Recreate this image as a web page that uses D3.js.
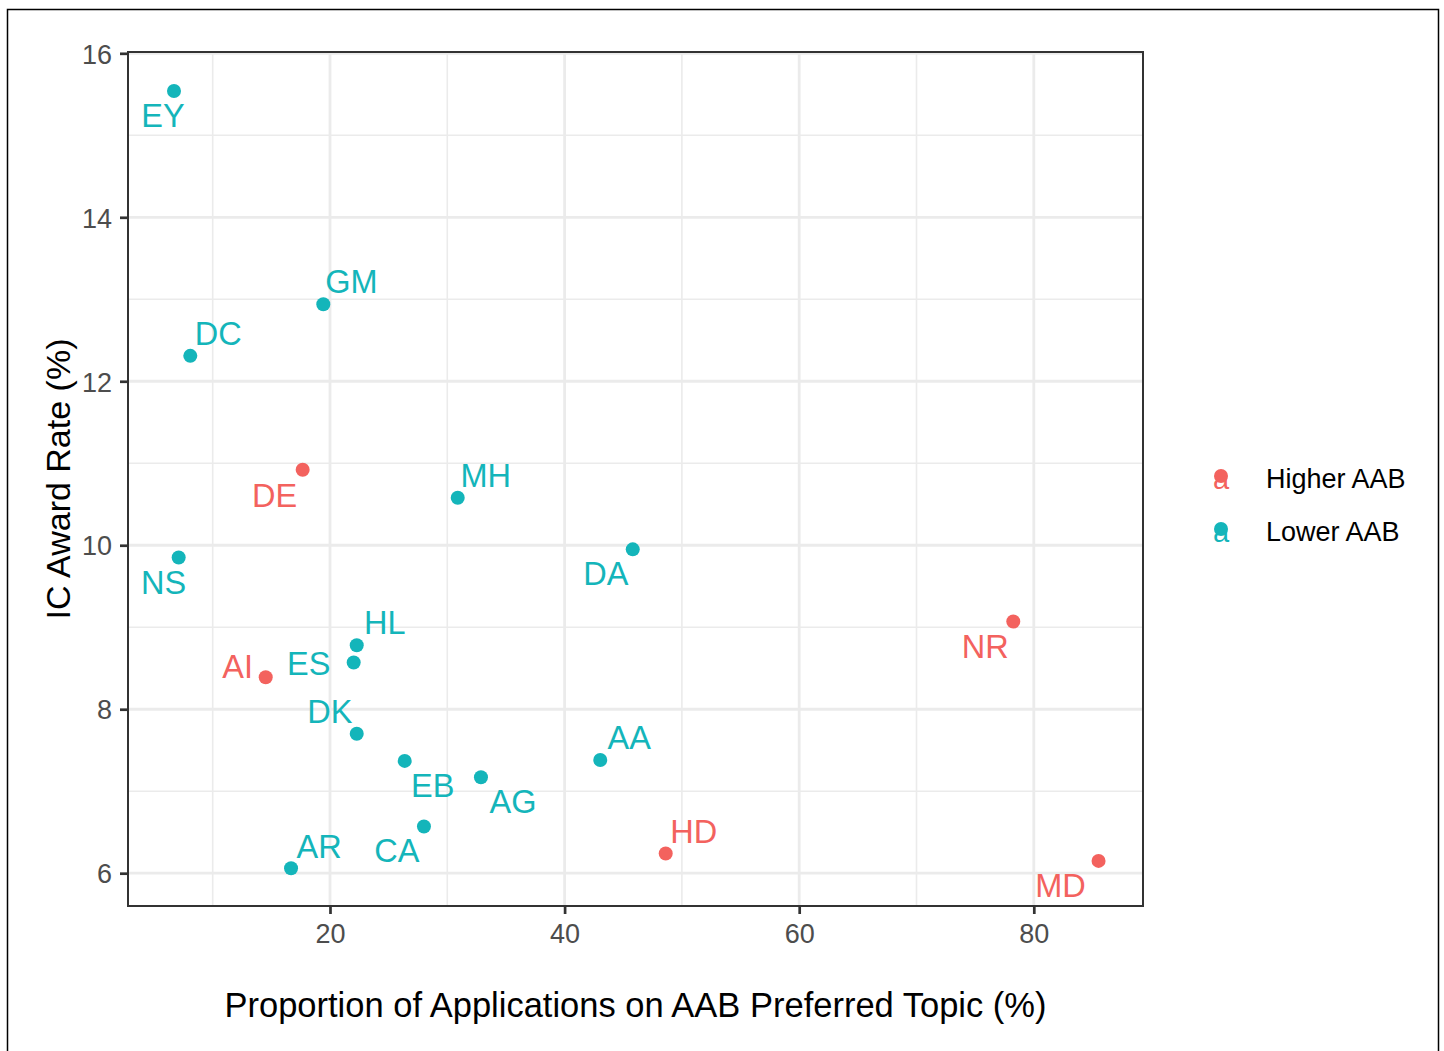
<!DOCTYPE html>
<html>
<head>
<meta charset="utf-8">
<script src="https://cdn.jsdelivr.net/npm/d3@7"></script>
<style>
  html, body { margin: 0; padding: 0; background: #fff; }
  svg { display: block; font-family: "Liberation Sans", Arial, Helvetica, sans-serif; }
</style>
</head>
<body>
<svg id="chart" width="1444" height="1051"></svg>
<script>
// ---- data ----
const codes = ["EY","GM","DC","DE","MH","NS","DA","NR","HL","ES","AI","DK","EB","AA","AG","CA","HD","MD","AR"];
const groups = ["Lower AAB","Lower AAB","Lower AAB","Higher AAB","Lower AAB","Lower AAB","Lower AAB","Higher AAB","Lower AAB","Lower AAB","Higher AAB","Lower AAB","Lower AAB","Lower AAB","Lower AAB","Lower AAB","Higher AAB","Higher AAB","Lower AAB"];
const propPreferred = [6.70, 19.43, 8.09, 17.67, 30.89, 7.10, 45.81, 78.25, 22.28, 22.02, 14.52, 22.28, 26.37, 43.04, 32.87, 28.01, 48.62, 85.52, 16.68];
const awardRate = [15.54, 12.94, 12.31, 10.92, 10.58, 9.85, 9.95, 9.07, 8.78, 8.57, 8.39, 7.70, 7.37, 7.38, 7.17, 6.57, 6.24, 6.15, 6.06];
const legendGroups = ["Higher AAB", "Lower AAB"];
const xTickValues = [20, 40, 60, 80];
const xMinorValues = [10, 30, 50, 70];
const yTickValues = [6, 8, 10, 12, 14, 16];
const yMinorValues = [7, 9, 11, 13, 15];
const xTitle = "Proportion of Applications on AAB Preferred Topic (%)";
const yTitle = "IC Award Rate (%)";

// label placement (repelled text offsets, px)
const labelDx = [-11, 28, 28, -28, 28, -15, -27, -28, 28, -45, -28, -27, 28, 29, 32, -27, 28, -38, 28];
const labelDy = [36, -11, -11, 37, -11, 36, 36, 37, -11, 13, 1, -11, 36, -11, 36, 36, -11, 36, -10];

// ---- layout ----
const panel = { left: 128, right: 1143, top: 52, bottom: 906 };
const colour = d3.scaleOrdinal().domain(legendGroups).range(["#F3625E", "#14B5BA"]);

const x = d3.scaleLinear().domain([2.78, 89.31]).range([panel.left, panel.right]);
const y = d3.scaleLinear().domain([5.60, 16.016]).range([panel.bottom, panel.top]);

const svg = d3.select("#chart");
const data = codes.map((c, i) => ({ code: c, group: groups[i], px: propPreferred[i], py: awardRate[i], dx: labelDx[i], dy: labelDy[i] }));

// outer frame
svg.append("rect").attr("x", 7.5).attr("y", 9.5).attr("width", 1431).attr("height", 1100)
  .attr("fill", "none").attr("stroke", "#000").attr("stroke-width", 1.5);

// panel background
svg.append("rect").attr("x", panel.left).attr("y", panel.top)
  .attr("width", panel.right - panel.left).attr("height", panel.bottom - panel.top).attr("fill", "#fff");

const grid = svg.append("g");
grid.selectAll(".xminor").data(xMinorValues).join("line")
  .attr("x1", d => x(d)).attr("x2", d => x(d)).attr("y1", panel.top).attr("y2", panel.bottom)
  .attr("stroke", "#EBEBEB").attr("stroke-width", 1.6);
grid.selectAll(".yminor").data(yMinorValues).join("line")
  .attr("y1", d => y(d)).attr("y2", d => y(d)).attr("x1", panel.left).attr("x2", panel.right)
  .attr("stroke", "#EBEBEB").attr("stroke-width", 1.6);
grid.selectAll(".xmajor").data(xTickValues).join("line")
  .attr("x1", d => x(d)).attr("x2", d => x(d)).attr("y1", panel.top).attr("y2", panel.bottom)
  .attr("stroke", "#EBEBEB").attr("stroke-width", 2.8);
grid.selectAll(".ymajor").data(yTickValues).join("line")
  .attr("y1", d => y(d)).attr("y2", d => y(d)).attr("x1", panel.left).attr("x2", panel.right)
  .attr("stroke", "#EBEBEB").attr("stroke-width", 2.8);

// points
svg.append("g").selectAll("circle").data(data).join("circle")
  .attr("cx", d => x(d.px)).attr("cy", d => y(d.py)).attr("r", 7)
  .attr("fill", d => colour(d.group));

// labels
svg.append("g").selectAll("text").data(data).join("text")
  .attr("x", d => x(d.px) + d.dx).attr("y", d => y(d.py) + d.dy)
  .attr("text-anchor", "middle").attr("font-size", 32.5)
  .attr("fill", d => colour(d.group)).text(d => d.code);

// panel border
svg.append("rect").attr("x", panel.left).attr("y", panel.top)
  .attr("width", panel.right - panel.left).attr("height", panel.bottom - panel.top)
  .attr("fill", "none").attr("stroke", "#333333").attr("stroke-width", 2);

// axes
const xAxis = svg.append("g").attr("transform", `translate(0,${panel.bottom})`)
  .call(d3.axisBottom(x).tickValues(xTickValues).tickSize(8).tickPadding(10).tickFormat(d3.format("d")));
const yAxis = svg.append("g").attr("transform", `translate(${panel.left},0)`)
  .call(d3.axisLeft(y).tickValues(yTickValues).tickSize(8).tickPadding(8).tickFormat(d3.format("d")));
[xAxis, yAxis].forEach(a => {
  a.select(".domain").remove();
  a.selectAll(".tick line").attr("stroke", "#333333").attr("stroke-width", 2.7);
  a.selectAll(".tick text").attr("fill", "#4D4D4D").attr("font-size", 27)
    .attr("font-family", "Liberation Sans, Arial, sans-serif");
});
yAxis.selectAll(".tick text").attr("dy", "0.36em");

// axis titles
svg.append("text").attr("x", (panel.left + panel.right) / 2).attr("y", 1017)
  .attr("text-anchor", "middle").attr("font-size", 34.5).attr("fill", "#000").text(xTitle);
svg.append("text").attr("transform", `translate(70,${(panel.top + panel.bottom) / 2}) rotate(-90)`)
  .attr("text-anchor", "middle").attr("font-size", 34).attr("fill", "#000").text(yTitle);

// legend
const legend = svg.append("g");
const legendY = [478, 531];
legendGroups.forEach((g, i) => {
  const item = legend.append("g").attr("transform", `translate(1221,${legendY[i]})`);
  item.append("text").attr("x", 0).attr("y", 11).attr("text-anchor", "middle")
    .attr("font-size", 29).attr("fill", colour(g)).text("a");
  item.append("circle").attr("cx", 0).attr("cy", -2).attr("r", 7).attr("fill", colour(g));
  legend.append("text").attr("x", 1266).attr("y", legendY[i] + 9.5)
    .attr("font-size", 27).attr("fill", "#000").text(g);
});
</script>
</body>
</html>
